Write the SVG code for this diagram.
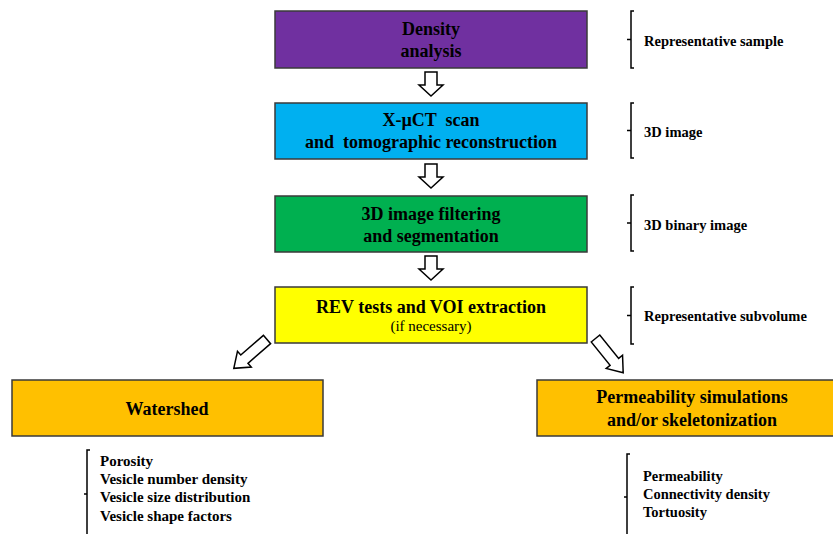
<svg xmlns="http://www.w3.org/2000/svg" width="833" height="534" viewBox="0 0 833 534">
<defs>
<style>
.box{stroke:#3a3a3a;stroke-width:1.5}
.t{font-family:"Liberation Serif","Times New Roman",serif;font-weight:bold;font-size:18px;fill:#000;text-anchor:middle;white-space:pre}
.s{font-family:"Liberation Serif","Times New Roman",serif;font-size:15px;fill:#000;text-anchor:middle}
.l{font-family:"Liberation Serif","Times New Roman",serif;font-weight:bold;font-size:14.5px;fill:#000}
.m{font-family:"Liberation Serif","Times New Roman",serif;font-weight:bold;font-size:15px;fill:#000}
.br{fill:none;stroke:#000;stroke-width:1.5}
.ar{fill:#fff;stroke:#000;stroke-width:1.5;stroke-linejoin:miter}
</style>
<path id="down" d="M-6,0 H6 V13 H12 L0,24 L-12,13 H-6 Z"/>
<path id="diag" d="M-5.5,0 H5.5 V30 H10.5 L0,44 L-10.5,30 H-5.5 Z"/>
</defs>
<rect width="833" height="534" fill="#fff"/>
<g id="connectors">
<use href="#down" class="ar" x="431" y="72"/>
<use href="#down" class="ar" x="431" y="164"/>
<use href="#down" class="ar" x="431" y="256"/>
<use href="#diag" class="ar" transform="translate(267,339.5) rotate(49)"/>
<use href="#diag" class="ar" transform="translate(595.5,338.5) rotate(-39)"/>
</g>
<g id="density">
<rect class="box" x="275" y="11" width="312" height="57" fill="#7030A0"/>
<text class="t" x="431" y="35">Density</text>
<text class="t" x="431" y="57">analysis</text>
</g>
<g id="xct">
<rect class="box" x="275" y="103" width="312" height="56" fill="#00B0F0"/>
<text class="t" x="431" y="126">X-µCT  scan</text>
<text class="t" x="431" y="148">and  tomographic reconstruction</text>
</g>
<g id="filtering">
<rect class="box" x="275" y="196" width="312" height="56" fill="#00B050"/>
<text class="t" x="431" y="220">3D image filtering</text>
<text class="t" x="431" y="242">and segmentation</text>
</g>
<g id="rev">
<rect class="box" x="275" y="287" width="312" height="56" fill="#FFFF00"/>
<text class="t" x="431" y="313">REV tests and VOI extraction</text>
<text class="s" x="431" y="331">(if necessary)</text>
</g>
<g id="watershed">
<rect class="box" x="12" y="380" width="311" height="56" fill="#FFC000"/>
<text class="t" x="167" y="415">Watershed</text>
</g>
<g id="permeability">
<rect class="box" x="537" y="380" width="300" height="56" fill="#FFC000"/>
<text class="t" x="692" y="403">Permeability simulations</text>
<text class="t" x="692" y="426">and/or skeletonization</text>
</g>
<g id="label-sample">
<path class="br" d="M634,11 H631 V68 H634 M631,39.5 H627"/>
<text class="l" x="644" y="46">Representative sample</text>
</g>
<g id="label-3dimage">
<path class="br" d="M634,103 H631 V158 H634 M631,130.5 H627"/>
<text class="l" x="644" y="137">3D image</text>
</g>
<g id="label-binary">
<path class="br" d="M634,195 H631 V251 H634 M631,223 H627"/>
<text class="l" x="644" y="230">3D binary image</text>
</g>
<g id="label-subvolume">
<path class="br" d="M634,287 H631 V344 H634 M631,315.5 H627"/>
<text class="l" x="644" y="321">Representative subvolume</text>
</g>
<g id="list-watershed">
<path class="br" d="M90,450 H87 V534 M87,494 H84"/>
<text class="m" x="100" y="466">Porosity</text>
<text class="m" x="100" y="484">Vesicle number density</text>
<text class="m" x="100" y="502">Vesicle size distribution</text>
<text class="m" x="100" y="521">Vesicle shape factors</text>
</g>
<g id="list-permeability">
<path class="br" d="M630,454 H627 V534 M627,497 H624"/>
<text class="l" x="643" y="481">Permeability</text>
<text class="l" x="643" y="499">Connectivity density</text>
<text class="l" x="643" y="517">Tortuosity</text>
</g>
</svg>
